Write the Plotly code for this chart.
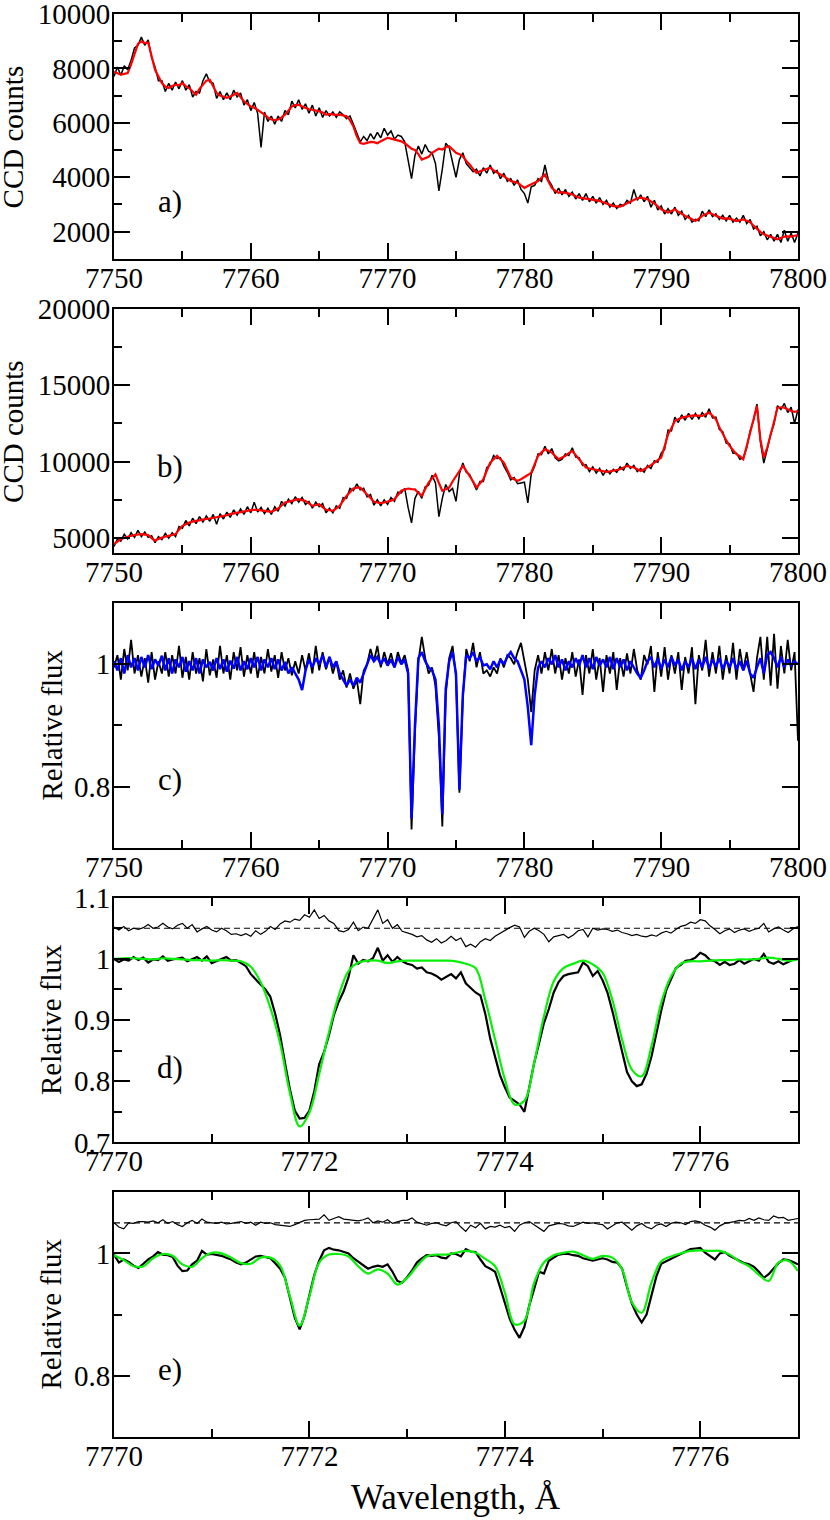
import numpy as np
import plotly.graph_objects as go
from plotly.subplots import make_subplots

FONT = "Liberation Serif, Times New Roman, serif"

# wavelength grids (Angstrom)
WAVE_WIDE = np.round(7750 + 0.25 * np.arange(201), 2)
WAVE_FINE = np.round(7770 + 0.05 * np.arange(141), 2)
WAVE_MODEL = np.round(7770 + 0.1 * np.arange(71), 2)

# panel a: CCD counts, observed (black) and template (red)
BLACK_A = [
    7700, 8050, 7750, 8100, 7950, 8300, 8750, 8850, 9150, 8850, 9050, 8400, 8050, 7550, 7550, 7150, 7450, 7200, 7500, 7250,
    7550, 7200, 7400, 6950, 7150, 7100, 7550, 7800, 7500, 7450, 6900, 7150, 6850, 7100, 6850, 7200, 6950, 7100, 6650, 6850,
    6450, 6750, 6350, 5100, 6400, 6050, 6250, 5950, 6250, 6050, 6450, 6300, 6800, 6550, 6850, 6500, 6700, 6350, 6650, 6250,
    6550, 6200, 6450, 6250, 6400, 6200, 6400, 6300, 6150, 6250, 5950, 5650, 5300, 5500, 5350, 5600, 5400, 5650, 5450, 5800,
    5550, 5700, 5400, 5550, 5500, 5300, 4600, 3950, 4800, 5150, 4850, 5200, 4950, 4900, 4500, 3500, 4300, 5250, 5100, 4500,
    4000, 4650, 4900, 4500, 4350, 4200, 4300, 4050, 4350, 4150, 4450, 4150, 4250, 3950, 4150, 3850, 3950, 3700, 3900, 3550,
    3400, 3050, 3650, 3700, 3950, 3850, 4450, 3900, 3700, 3400, 3600, 3350, 3550, 3300, 3450, 3200, 3400, 3150, 3400, 3100,
    3300, 3050, 3250, 3000, 3150, 2900, 3050, 2850, 3000, 2950, 3150, 3050, 3550, 3150, 3350, 3100, 3300, 2900, 3150, 2800,
    2950, 2650, 2850, 2650, 2900, 2600, 2750, 2450, 2600, 2350, 2450, 2400, 2750, 2550, 2800, 2550, 2650, 2450, 2600, 2400,
    2600, 2350, 2500, 2350, 2600, 2300, 2450, 2100, 2200, 1850, 2000, 1700, 1900, 1650, 1900, 1600, 2050, 1650, 1950, 1600,
    1950,
]
RED_A = [
    7880, 7820, 7770, 7800, 7830, 8150, 8560, 8900, 8990, 8930, 8950, 8500, 7950, 7700, 7460, 7330, 7280, 7350, 7400, 7380,
    7460, 7350, 7280, 7150, 7030, 7250, 7400, 7550, 7580, 7350, 7100, 7000, 6970, 6920, 6970, 7050, 7100, 6950, 6790, 6700,
    6600, 6560, 6480, 6400, 6300, 6200, 6120, 6100, 6120, 6200, 6300, 6450, 6600, 6650, 6670, 6600, 6550, 6500, 6480, 6460,
    6420, 6380, 6300, 6320, 6300, 6290, 6300, 6270, 6240, 6100, 5870, 5500, 5260, 5230, 5260, 5300, 5290, 5250, 5320, 5400,
    5450, 5420, 5380, 5350, 5320, 5250, 5140, 5050, 5000, 4850, 4650, 4700, 4750, 4900, 4960, 5050, 5020, 5100, 5140, 5000,
    4900, 4850, 4770, 4600, 4470, 4300, 4160, 4220, 4260, 4300, 4350, 4250, 4160, 4100, 4040, 3950, 3860, 3830, 3800, 3700,
    3610, 3680, 3740, 3800, 3860, 3980, 4100, 3850, 3610, 3500, 3430, 3450, 3430, 3400, 3370, 3300, 3250, 3230, 3210, 3200,
    3190, 3160, 3130, 3080, 3040, 2990, 2940, 2930, 2920, 2980, 3040, 3120, 3190, 3230, 3250, 3220, 3190, 3110, 3040, 2930,
    2820, 2760, 2700, 2760, 2820, 2730, 2640, 2580, 2520, 2450, 2390, 2480, 2580, 2640, 2700, 2640, 2580, 2530, 2480, 2490,
    2480, 2440, 2390, 2420, 2450, 2400, 2350, 2220, 2090, 1990, 1900, 1860, 1820, 1770, 1720, 1770, 1820, 1830, 1820, 1850,
    1870,
]

# panel b: CCD counts, second spectrum
BLACK_B = [
    4450, 4950, 4800, 5250, 4950, 5350, 5050, 5500, 5100, 5400, 5050, 5150, 4700, 5100, 4900, 5300, 5000, 5350, 5100, 5750,
    5650, 6150, 5800, 6300, 5950, 6400, 6050, 6450, 6100, 6550, 5900, 6600, 6250, 6700, 6350, 6850, 6500, 6900, 6550, 7050,
    6650, 7350, 6700, 7000, 6600, 6950, 6550, 7050, 6750, 7400, 7100, 7550, 7250, 7700, 7350, 7650, 7200, 7400, 6950, 7350,
    7050, 7250, 6650, 6950, 6650, 7100, 6950, 7650, 7600, 8250, 8100, 8550, 8150, 8250, 7700, 7850, 7150, 7500, 7100, 7500,
    7200, 7650, 7400, 8000, 7950, 8250, 7000, 6000, 7600, 8050, 7600, 8350, 8450, 9100, 8600, 6400, 7600, 8500, 8050, 8250,
    7400, 9200, 9900, 9300, 9150, 8600, 8150, 8700, 8700, 9600, 9800, 10400, 10200, 10250, 9700, 9300, 8800, 8950, 8550, 8600,
    8650, 7300, 9200, 9700, 10500, 10450, 11000, 10500, 10850, 10250, 10050, 10150, 10500, 10400, 10900, 10300, 10250, 9750, 9800, 9350,
    9650, 9250, 9550, 9100, 9450, 9200, 9500, 9300, 9650, 9450, 9900, 9550, 9750, 9350, 9550, 9300, 9750, 9550, 10050, 9950,
    10550, 10800, 12050, 12000, 12900, 12550, 13050, 12700, 13150, 12750, 13150, 12800, 13200, 12900, 13450, 12850, 12900, 12100, 11950, 11200,
    11150, 10550, 10550, 10150, 10250, 10900, 12000, 12700, 13750, 11300, 9900, 10800, 11800, 12450, 13650, 13400, 13800, 13200, 13550, 12500,
    13400,
]
RED_B = [
    4610, 4800, 4930, 5020, 5110, 5150, 5200, 5230, 5260, 5230, 5200, 5000, 4830, 4950, 5040, 5100, 5150, 5200, 5260, 5550,
    5800, 5900, 6020, 6080, 6130, 6180, 6240, 6260, 6280, 6320, 6350, 6380, 6410, 6490, 6570, 6620, 6670, 6700, 6740, 6790,
    6830, 6840, 6850, 6810, 6780, 6750, 6720, 6820, 6930, 7130, 7330, 7380, 7430, 7480, 7540, 7480, 7430, 7270, 7110, 7160,
    7220, 7030, 6850, 6820, 6780, 6950, 7110, 7430, 7760, 8000, 8240, 8300, 8300, 8080, 7870, 7620, 7370, 7320, 7280, 7330,
    7370, 7450, 7540, 7800, 8090, 8170, 8240, 8200, 8180, 7950, 7760, 8200, 8630, 8900, 9170, 8600, 8090, 8200, 8300, 8700,
    9070, 9400, 9720, 9400, 9070, 8700, 8300, 8550, 8850, 9400, 9930, 10150, 10370, 10150, 9930, 9450, 8960, 8850, 8740, 8850,
    8960, 9120, 9280, 9800, 10370, 10600, 10800, 10700, 10590, 10370, 10150, 10260, 10370, 10550, 10700, 10420, 10150, 9880, 9610, 9550,
    9500, 9450, 9390, 9360, 9330, 9360, 9390, 9450, 9500, 9610, 9720, 9660, 9610, 9500, 9390, 9500, 9610, 9770, 9930, 10100,
    10260, 11000, 11780, 12200, 12650, 12760, 12870, 12920, 12980, 13000, 13020, 13000, 12980, 13100, 13200, 13000, 12760, 12250, 11780, 11400,
    11020, 10750, 10480, 10350, 10150, 11000, 11890, 12800, 13630, 11460, 10260, 10900, 11670, 12600, 13520, 13550, 13520, 13400, 13300, 13250,
    13300,
]

# panel c: normalised spectrum (black) and fit (blue)
BLACK_C = [
    0.995, 1.015, 0.975, 1.025, 0.990, 1.040, 0.985, 1.015, 0.980, 1.010, 0.970, 1.020, 0.975, 1.005, 0.985, 1.020, 0.980, 1.015, 0.985, 1.030,
    0.978, 1.012, 0.975, 1.020, 0.985, 1.010, 0.972, 1.025, 0.982, 1.008, 0.978, 1.030, 0.985, 1.015, 0.975, 1.020, 0.990, 1.028, 0.980, 1.015,
    0.985, 1.020, 0.978, 1.012, 0.985, 1.025, 0.988, 1.015, 0.978, 1.020, 0.990, 1.010, 0.982, 1.005, 0.985, 1.015, 0.990, 1.018, 0.985, 1.030,
    0.990, 1.020, 0.992, 1.012, 0.985, 1.005, 0.975, 0.990, 0.962, 0.985, 0.960, 0.975, 0.935, 0.990, 1.000, 1.025, 1.005, 1.030, 0.995, 1.020,
    1.000, 1.018, 0.995, 1.020, 1.002, 1.015, 0.990, 0.730, 0.890, 1.005, 1.045, 1.010, 0.985, 0.995, 0.965, 0.880, 0.735, 0.950, 1.010, 1.030,
    0.980, 0.790, 0.945, 1.025, 1.005, 1.035, 0.995, 1.020, 0.985, 0.990, 0.980, 0.995, 0.985, 1.010, 0.995, 1.015, 1.010, 1.000, 1.020, 1.035,
    1.005, 0.975, 0.922, 0.990, 1.015, 0.985, 1.020, 0.990, 1.025, 0.985, 1.015, 0.975, 1.010, 0.985, 1.020, 0.980, 1.008, 0.950, 1.015, 0.985,
    1.025, 0.975, 1.010, 0.955, 1.015, 0.985, 1.020, 0.958, 1.010, 0.980, 1.018, 0.985, 1.025, 0.990, 0.975, 1.015, 1.000, 1.030, 0.955, 1.020,
    0.980, 1.028, 0.975, 1.015, 0.985, 1.020, 0.958, 1.012, 0.985, 1.028, 0.935, 1.015, 0.990, 1.040, 0.980, 1.020, 0.985, 1.030, 0.975, 1.015,
    0.985, 1.035, 0.975, 1.025, 0.990, 1.020, 0.985, 0.955, 1.010, 1.045, 0.975, 1.045, 0.965, 1.050, 0.960, 1.030, 0.985, 1.040, 0.990, 1.020,
    0.875,
]
BLUE_C = [
    1.005, 0.990, 1.010, 0.985, 1.015, 0.995, 1.010, 0.990, 1.012, 0.995, 1.015, 0.992, 1.008, 0.998, 1.014, 0.990, 1.010, 0.985, 1.008, 0.995,
    1.012, 0.988, 1.005, 0.990, 1.010, 0.985, 1.008, 0.995, 1.004, 0.990, 1.010, 0.992, 1.008, 0.988, 1.006, 0.993, 1.012, 0.990, 1.005, 0.992,
    1.010, 0.995, 1.012, 0.990, 1.008, 0.995, 1.010, 0.992, 1.008, 0.990, 1.004, 0.985, 0.995, 0.985, 0.975, 0.958, 0.990, 1.008, 0.995, 1.010,
    1.000, 1.015, 0.995, 1.012, 0.995, 1.005, 0.985, 0.975, 0.965, 0.975, 0.965, 0.978, 0.970, 0.985, 1.000, 1.015, 1.005, 1.012, 1.000, 1.010,
    0.998, 1.008, 0.995, 1.012, 1.000, 1.008, 0.985, 0.748, 0.900, 1.010, 1.020, 1.005, 0.995, 0.990, 0.975, 0.900, 0.755, 0.960, 1.005, 1.020,
    0.985, 0.795, 0.950, 1.015, 1.010, 1.020, 1.005, 1.012, 0.998, 1.000, 0.992, 1.005, 0.995, 1.008, 1.000, 1.012, 1.020, 1.010, 1.005, 0.990,
    0.975, 0.930, 0.868, 0.950, 0.995, 1.005, 0.995, 1.010, 1.000, 1.015, 0.995, 1.008, 0.990, 1.005, 0.995, 1.010, 0.998, 1.015, 0.995, 1.010,
    0.992, 1.012, 0.998, 1.008, 0.995, 1.012, 0.992, 1.010, 0.995, 1.008, 0.990, 1.005, 0.995, 0.985, 0.978, 0.990, 1.005, 1.012, 0.995, 1.010,
    0.992, 1.008, 0.995, 1.012, 0.998, 1.008, 0.990, 1.005, 0.995, 1.010, 0.992, 1.008, 0.995, 1.012, 0.993, 1.008, 0.996, 1.010, 0.992, 1.006,
    0.995, 1.010, 0.992, 1.005, 0.990, 1.006, 0.985, 0.978, 0.995, 1.010, 0.985, 1.015, 1.020, 1.010, 0.995, 1.012, 0.995, 1.008, 0.998, 1.005,
    1.000,
]

# panel d: observed (black), model (green), residual shifted to 1.05
BLACK_D = [
    1.000, 0.995, 0.999, 0.997, 1.003, 0.998, 1.002, 0.994, 0.999, 0.998, 1.004, 0.997, 0.999, 1.000, 1.002, 0.996, 0.999, 1.003, 0.997, 1.004,
    0.993, 0.996, 0.999, 1.003, 0.997, 0.998, 0.993, 0.988, 0.975, 0.966, 0.958, 0.950, 0.938, 0.910, 0.875, 0.830, 0.787, 0.752, 0.739, 0.740,
    0.752, 0.784, 0.828, 0.848, 0.875, 0.908, 0.930, 0.947, 0.970, 1.006, 0.992, 0.998, 0.996, 1.001, 1.018, 0.997, 1.006, 0.995, 1.003, 0.996,
    0.992, 0.990, 0.984, 0.986, 0.978, 0.976, 0.972, 0.966, 0.970, 0.975, 0.968, 0.978, 0.960, 0.952, 0.945, 0.940, 0.910, 0.870, 0.840, 0.810,
    0.790, 0.773, 0.768, 0.762, 0.750, 0.790, 0.830, 0.862, 0.895, 0.918, 0.945, 0.962, 0.972, 0.975, 0.976, 0.978, 0.994, 0.988, 0.972, 0.980,
    0.965, 0.945, 0.915, 0.880, 0.845, 0.815, 0.800, 0.792, 0.795, 0.812, 0.840, 0.878, 0.915, 0.948, 0.968, 0.985, 0.990, 0.997, 0.998, 1.002,
    1.010, 1.006, 0.998, 0.996, 0.990, 0.995, 0.990, 0.992, 0.998, 0.992, 0.996, 1.000, 0.997, 1.008, 0.995, 0.992, 0.996, 0.991, 0.995, 0.999,
    1.000,
]
RESID_D = [
    1.052, 1.047, 1.053, 1.046, 1.050, 1.048, 1.051, 1.056, 1.050, 1.052, 1.058, 1.052, 1.049, 1.055, 1.058, 1.050, 1.056, 1.044, 1.049, 1.053,
    1.047, 1.044, 1.050, 1.046, 1.040, 1.041, 1.038, 1.041, 1.037, 1.046, 1.040, 1.045, 1.053, 1.048, 1.057, 1.062, 1.060, 1.065, 1.063, 1.072,
    1.068, 1.080, 1.066, 1.071, 1.062, 1.058, 1.046, 1.044, 1.048, 1.060, 1.046, 1.052, 1.050, 1.066, 1.080, 1.058, 1.064, 1.050, 1.056, 1.045,
    1.043, 1.040, 1.036, 1.038, 1.031, 1.027, 1.033, 1.026, 1.030, 1.037, 1.030, 1.034, 1.020, 1.024, 1.019, 1.028, 1.033, 1.030, 1.037, 1.042,
    1.046, 1.051, 1.055, 1.052, 1.035, 1.045, 1.050, 1.046, 1.040, 1.028, 1.036, 1.038, 1.040, 1.034, 1.039, 1.046, 1.048, 1.036, 1.050, 1.047,
    1.049, 1.048, 1.045, 1.047, 1.043, 1.041, 1.038, 1.040, 1.037, 1.036, 1.039, 1.037, 1.042, 1.045, 1.042, 1.048, 1.053, 1.055, 1.060, 1.058,
    1.064, 1.062, 1.054, 1.048, 1.041, 1.046, 1.049, 1.043, 1.047, 1.049, 1.045, 1.048, 1.050, 1.058, 1.044, 1.049, 1.052, 1.047, 1.043, 1.049,
    1.053,
]
GREEN_D = [
    1.000, 1.001, 1.001, 1.000, 0.999, 1.001, 1.000, 0.999, 0.998, 0.998,
    0.997, 0.998, 0.997, 0.996, 0.987, 0.962, 0.920, 0.862, 0.781, 0.726,
    0.749, 0.812, 0.880, 0.940, 0.980, 0.994, 0.997, 0.997, 0.993, 0.996,
    0.997, 0.997, 0.997, 0.997, 0.997, 0.996, 0.992, 0.985, 0.933, 0.868,
    0.803, 0.762, 0.768, 0.830, 0.906, 0.963, 0.985, 0.992, 0.997, 0.991,
    0.977, 0.933, 0.868, 0.819, 0.808, 0.857, 0.928, 0.971, 0.992, 0.996,
    0.996, 0.997, 0.998, 0.998, 0.999, 0.999, 1.000, 1.002, 1.000, 0.997,
    0.999,
]

# panel e: second star, same layout as d
BLACK_E = [
    0.998, 0.985, 0.990, 0.986, 0.980, 0.976, 0.983, 0.990, 0.995, 1.002, 0.998, 0.997, 0.994, 0.980, 0.971, 0.972, 0.982, 0.988, 1.004, 0.998,
    0.999, 0.998, 0.996, 0.993, 0.990, 0.985, 0.982, 0.985, 0.990, 0.995, 0.996, 0.994, 0.992, 0.984, 0.975, 0.960, 0.925, 0.895, 0.876, 0.898,
    0.932, 0.965, 0.988, 1.005, 1.009, 1.006, 1.005, 1.003, 1.000, 0.992, 0.986, 0.980, 0.975, 0.978, 0.980, 0.978, 0.982, 0.970, 0.955, 0.952,
    0.961, 0.972, 0.985, 0.992, 0.997, 0.996, 0.997, 0.993, 0.992, 1.000, 0.999, 0.995, 1.007, 1.003, 1.002, 0.990, 0.979, 0.975, 0.970, 0.945,
    0.920, 0.893, 0.875, 0.862, 0.880, 0.915, 0.942, 0.970, 0.967, 0.988, 0.993, 0.998, 0.999, 0.999, 0.997, 0.996, 0.992, 0.990, 0.988, 0.990,
    0.992, 0.990, 0.986, 0.985, 0.975, 0.945, 0.918, 0.900, 0.887, 0.900, 0.930, 0.962, 0.983, 0.987, 0.990, 0.995, 0.998, 1.003, 1.007, 1.008,
    1.009, 1.001, 0.996, 0.990, 1.000, 1.002, 0.996, 0.992, 0.988, 0.984, 0.982, 0.978, 0.970, 0.960, 0.966, 0.975, 0.984, 0.990, 0.989, 0.986,
    0.982,
]
RESID_E = [
    1.050, 1.043, 1.040, 1.050, 1.049, 1.052, 1.052, 1.051, 1.053, 1.050, 1.055, 1.049, 1.052, 1.047, 1.044, 1.050, 1.054, 1.049, 1.056, 1.051,
    1.050, 1.049, 1.051, 1.048, 1.049, 1.050, 1.052, 1.049, 1.051, 1.046, 1.051, 1.049, 1.050, 1.047, 1.046, 1.045, 1.044, 1.047, 1.050, 1.054,
    1.055, 1.056, 1.056, 1.063, 1.054, 1.057, 1.060, 1.056, 1.055, 1.053, 1.053, 1.055, 1.058, 1.050, 1.053, 1.051, 1.055, 1.049, 1.052, 1.054,
    1.054, 1.058, 1.051, 1.048, 1.046, 1.049, 1.050, 1.047, 1.045, 1.050, 1.052, 1.043, 1.036, 1.046, 1.042, 1.049, 1.040, 1.044, 1.043, 1.046,
    1.042, 1.044, 1.036, 1.046, 1.050, 1.052, 1.047, 1.041, 1.036, 1.045, 1.047, 1.049, 1.048, 1.045, 1.044, 1.048, 1.051, 1.049, 1.050, 1.048,
    1.047, 1.040, 1.045, 1.050, 1.051, 1.044, 1.038, 1.045, 1.049, 1.043, 1.040, 1.046, 1.048, 1.044, 1.049, 1.051, 1.050, 1.047, 1.052, 1.053,
    1.051, 1.046, 1.043, 1.038, 1.045, 1.049, 1.050, 1.052, 1.054, 1.053, 1.057, 1.054, 1.058, 1.055, 1.054, 1.061, 1.058, 1.059, 1.054, 1.055,
    1.057,
]
GREEN_E = [
    0.997, 0.989, 0.979, 0.979, 0.992, 0.999, 0.996, 0.982, 0.978, 0.992,
    1.001, 1.000, 0.993, 0.984, 0.983, 0.993, 0.993, 0.980, 0.930, 0.882,
    0.930, 0.985, 0.998, 0.999, 0.995, 0.979, 0.967, 0.974, 0.967, 0.949,
    0.960, 0.979, 0.995, 0.998, 0.998, 1.001, 1.004, 1.001, 0.991, 0.979,
    0.936, 0.884, 0.890, 0.952, 0.985, 0.997, 1.001, 1.003, 0.997, 0.991,
    0.996, 0.993, 0.974, 0.920, 0.903, 0.952, 0.987, 0.995, 1.000, 1.004,
    1.005, 1.004, 1.004, 0.998, 0.987, 0.979, 0.965, 0.955, 0.985, 0.988,
    0.971,
]

RESID_LEVEL = 1.05
PANEL_TAGS = ["a)", "b)", "c)", "d)", "e)"]
Y_TITLES = ["CCD counts", "CCD counts", "Relative flux", "Relative flux", "Relative flux"]

for arr in (BLACK_A, RED_A, BLACK_B, RED_B, BLACK_C, BLUE_C):
    assert len(arr) == len(WAVE_WIDE), len(arr)
for arr in (BLACK_D, RESID_D, BLACK_E, RESID_E):
    assert len(arr) == len(WAVE_FINE), len(arr)
for arr in (GREEN_D, GREEN_E):
    assert len(arr) == len(WAVE_MODEL), len(arr)

GREEN = "#08f008"

fig = make_subplots(rows=5, cols=1, vertical_spacing=0.0349)


def line(x, y, color, width, row, shape="linear"):
    fig.add_trace(
        go.Scatter(x=x, y=y, mode="lines", line=dict(color=color, width=width, shape=shape),
                   hoverinfo="skip"),
        row=row, col=1,
    )


line(WAVE_WIDE, BLACK_A, "black", 1.5, 1)
line(WAVE_WIDE, RED_A, "#ff0000", 2.2, 1)
line(WAVE_WIDE, BLACK_B, "black", 1.5, 2)
line(WAVE_WIDE, RED_B, "#ff0000", 2.2, 2)
line(WAVE_WIDE, BLACK_C, "black", 1.8, 3)
line(WAVE_WIDE, BLUE_C, "#0000ff", 2.5, 3)

for row, resid, obs, model in ((4, RESID_D, BLACK_D, GREEN_D), (5, RESID_E, BLACK_E, GREEN_E)):
    line(WAVE_FINE, resid, "black", 1.2, row)
    line(WAVE_FINE, obs, "black", 2.2, row)
    line(WAVE_MODEL, model, GREEN, 2.2, row, shape="spline")
    fig.add_hline(y=RESID_LEVEL, row=row, col=1,
                  line=dict(color="black", width=1.2, dash="6px,4px"))

tick_font = dict(family=FONT, size=29, color="black")
axis_style = dict(
    showline=True, linecolor="black", linewidth=2, mirror="allticks",
    ticks="inside", ticklen=16, tickwidth=2, tickcolor="black",
    showgrid=False, zeroline=False, automargin=False, tickfont=tick_font,
    ticklabeloverflow="allow",
)
fig.update_xaxes(**axis_style, ticklabelstandoff=-8)
fig.update_yaxes(**axis_style, ticklabelstandoff=-4)

minor = dict(ticks="inside", ticklen=8, tickwidth=2, tickcolor="black", showgrid=False)
for row in (1, 2, 3):
    fig.update_xaxes(range=[7750, 7800], tick0=7750, dtick=10, minor=dict(minor, dtick=5), row=row, col=1)
for row in (4, 5):
    fig.update_xaxes(range=[7770, 7777], tick0=7770, dtick=2, minor=dict(minor, dtick=1), row=row, col=1)

fig.update_yaxes(range=[1000, 10000], tick0=0, dtick=2000, tickformat="d",
                 minor=dict(minor, dtick=1000), row=1, col=1)
fig.update_yaxes(range=[4000, 20000], tick0=0, dtick=5000, tickformat="d",
                 minor=dict(minor, dtick=2500), row=2, col=1)
fig.update_yaxes(range=[0.6999, 1.1001], tick0=0, dtick=0.2, minor=dict(minor, dtick=0.1), row=3, col=1)
fig.update_yaxes(range=[0.6999, 1.1001], tick0=0, dtick=0.1, minor=dict(minor, dtick=0.05), row=4, col=1)
fig.update_yaxes(range=[0.6999, 1.1001], tick0=0, dtick=0.2, minor=dict(minor, dtick=0.1), row=5, col=1)

annotations = []
tag_heights = [0.233, 0.355, 0.278, 0.307, 0.275]
for i in range(5):
    suffix = "" if i == 0 else str(i + 1)
    annotations.append(dict(
        text=Y_TITLES[i], textangle=-90, showarrow=False,
        xref="paper", x=-0.1477 if i < 2 else -0.0921, xanchor="center",
        yref=f"y{suffix} domain", y=0.5, yanchor="middle",
        font=dict(family=FONT, size=29, color="black"),
    ))
    annotations.append(dict(
        text=PANEL_TAGS[i], showarrow=False,
        xref=f"x{suffix} domain", x=0.082, xanchor="center",
        yref=f"y{suffix} domain", y=tag_heights[i], yanchor="middle",
        font=dict(family=FONT, size=31, color="black"),
    ))
annotations.append(dict(
    text="Wavelength, Å", showarrow=False,
    xref="paper", x=0.5, xanchor="center",
    yref="paper", y=-0.0422, yanchor="middle",
    font=dict(family=FONT, size=35, color="black"),
))

fig.update_layout(
    template="none",
    width=830, height=1520,
    margin=dict(l=114, r=32, t=14, b=83),
    paper_bgcolor="white", plot_bgcolor="white",
    showlegend=False, hovermode=False,
    font=dict(family=FONT, size=29, color="black"),
    annotations=annotations,
)

# the page body has a default 8px margin; drop it so the 830x1520 figure fills the window
fig.write_html(
    "out.html",
    config={"displayModeBar": False},
    post_script="document.body.style.margin='0px';",
)
